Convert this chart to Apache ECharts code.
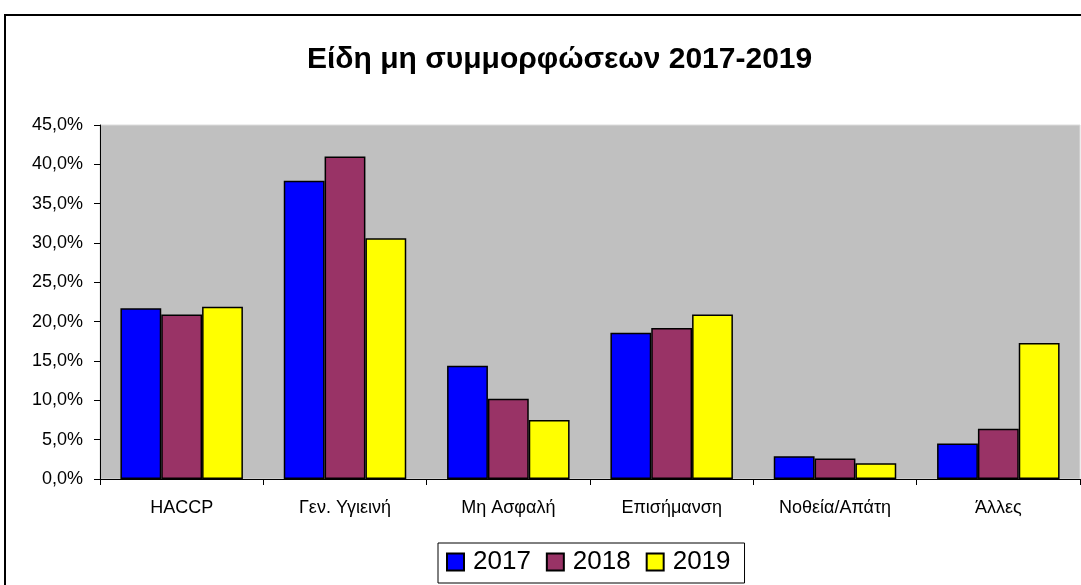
<!DOCTYPE html>
<html>
<head>
<meta charset="utf-8">
<script src="https://cdn.jsdelivr.net/npm/echarts@6/dist/echarts.min.js"></script>
<style>
  html, body { margin: 0; padding: 0; background: #fff; }
  #chart { width: 1081px; height: 585px; }
</style>
</head>
<body>
<div id="chart"></div>
<script>
// κατηγορίες μη συμμορφώσεων
const categories = ['HACCP', 'Γεν. Υγιεινή', 'Μη Ασφαλή', 'Επισήμανση', 'Νοθεία/Απάτη', 'Άλλες'];
const years = ['2017', '2018', '2019'];

// ποσοστά (%) ανά έτος
const values2017 = [21.7, 37.9, 14.4, 18.6, 2.9, 4.5];
const values2018 = [20.9, 41.0, 10.2, 19.2, 2.6, 6.4];
const values2019 = [21.9, 30.6, 7.5, 20.9, 2.0, 17.3];

const COLORS = ['#0000ff', '#993366', '#ffff00'];
const FONT = '"Liberation Sans", Arial, sans-serif';

const chart = echarts.init(document.getElementById('chart'));

const makeSeries = (name, data, color) => ({
  name,
  type: 'bar',
  data,
  barGap: '0%',
  barCategoryGap: '25%',
  itemStyle: { color, borderColor: '#000', borderWidth: 1.5 }
});

chart.setOption({
  backgroundColor: '#fff',
  animation: false,
  title: {
    text: 'Είδη μη συμμορφώσεων 2017-2019',
    left: 302,
    top: 40,
    textStyle: { fontFamily: FONT, fontSize: 30, fontWeight: 'bold', color: '#000' }
  },
  graphic: [{
    type: 'rect',
    shape: { x: 5, y: 15, width: 1100, height: 620 },
    style: { fill: 'none', stroke: '#000', lineWidth: 2 },
    silent: true
  }],
  legend: {
    data: years,
    left: 438,
    top: 543,
    padding: [6, 14, 8, 8],
    itemGap: 15,
    itemWidth: 17,
    itemHeight: 17,
    icon: 'rect',
    borderColor: '#000',
    borderWidth: 1,
    textStyle: { fontFamily: FONT, fontSize: 26, color: '#000', padding: [0, 0, 0, 4] }
  },
  grid: {
    left: 100,
    right: 1,
    top: 125,
    bottom: 106,
    show: true,
    backgroundColor: '#c0c0c0',
    borderColor: '#dcdcdc',
    borderWidth: 1
  },
  xAxis: {
    type: 'category',
    data: categories,
    axisLine: { lineStyle: { color: '#000', width: 1 } },
    axisTick: { show: true, length: 6, lineStyle: { color: '#000' } },
    axisLabel: { fontFamily: FONT, fontSize: 18, color: '#000', margin: 20 },
    splitLine: { show: false }
  },
  yAxis: {
    type: 'value',
    min: 0,
    max: 45,
    interval: 5,
    axisLine: { show: true, lineStyle: { color: '#000', width: 1 } },
    axisTick: { show: true, length: 6, lineStyle: { color: '#000' } },
    axisLabel: {
      fontFamily: FONT,
      fontSize: 18,
      color: '#000',
      margin: 17,
      formatter: v => v.toFixed(1).replace('.', ',') + '%'
    },
    splitLine: { show: false }
  },
  series: [
    makeSeries(years[0], values2017, COLORS[0]),
    makeSeries(years[1], values2018, COLORS[1]),
    makeSeries(years[2], values2019, COLORS[2])
  ]
});
</script>
</body>
</html>
